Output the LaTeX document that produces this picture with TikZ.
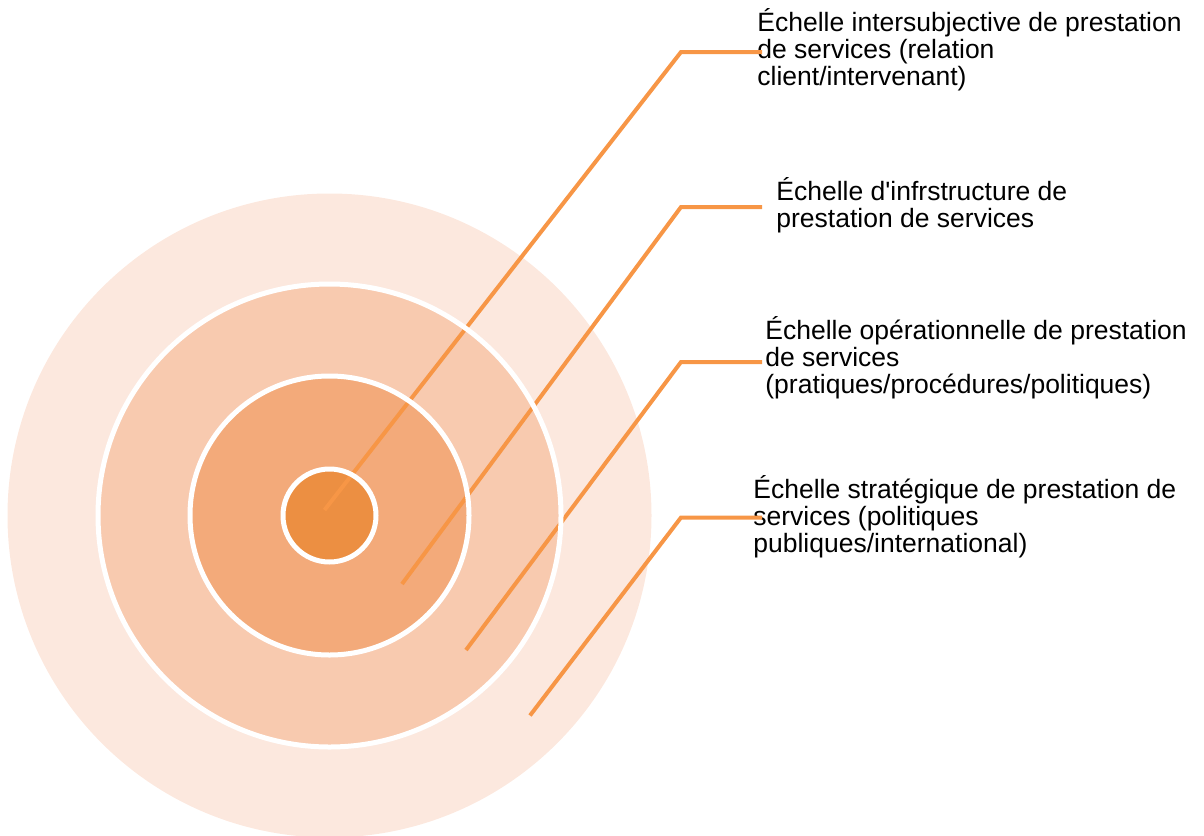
\documentclass[tikz,border=0pt]{standalone}
\usepackage{fontspec}
\setmainfont{Liberation Sans}[Ligatures=TeXOff]

\definecolor{ringA}{HTML}{FCE8DE}
\definecolor{ringB}{HTML}{F8CAAF}
\definecolor{ringC}{HTML}{F3AA7A}
\definecolor{ringD}{HTML}{EC8F42}
\definecolor{lead}{HTML}{F79646}

\begin{document}
\begin{tikzpicture}[x=0.5pt, y=-0.5pt,
    scalelabel/.style={anchor=base west, inner sep=0pt, align=left,
      font=\fontsize{13.25}{13.5}\selectfont},
    leader/.style={draw=lead, line width=2pt},
    gap/.style={draw=white, line width=2.5pt}]
    \useasboundingbox (0,0) rectangle (1204,835);
    \clip (0,0) rectangle (1204,835);

    \coordinate (c) at (329.5,515.5);
    \fill[ringA] (c) circle (322);
    \fill[ringB] (c) circle (231.5);
    \fill[ringC] (c) circle (139.5);
    \fill[ringD] (c) circle (46.5);

    % labels, placed by the baseline of their last line
    \node[scalelabel] (inter) at (757,85) {Échelle intersubjective de prestation\\de services (relation\\client/intervenant)};
    \node[scalelabel] (infra) at (776,227) {Échelle d'infrstructure de\\prestation de services};
    \node[scalelabel] (oper) at (765,393) {Échelle opérationnelle de prestation\\de services\\(pratiques/procédures/politiques)};
    \node[scalelabel] (strat) at (753,552) {Échelle stratégique de prestation de\\services (politiques\\publiques/international)};

    \coordinate (p1) at (324.5,510);   \coordinate (k1) at (681,52);    \coordinate (e1) at (762,52);
    \coordinate (p2) at (402,584);     \coordinate (k2) at (681,207);   \coordinate (e2) at (762,207);
    \coordinate (p3) at (466,650);     \coordinate (k3) at (681,362);   \coordinate (e3) at (762,362);
    \coordinate (p4) at (530,715.5);   \coordinate (k4) at (681,517.5); \coordinate (e4) at (762,517.5);

    \draw[leader] (p1) -- (k1) -- (e1);
    \draw[leader] (p2) -- (k2) -- (e2);
    \draw[leader] (p3) -- (k3) -- (e3);
    \draw[leader] (p4) -- (k4) -- (e4);

    % white rings over the leaders
    \draw[gap] (c) circle (231.5);
    \draw[gap] (c) circle (139.5);
    \draw[gap] (c) circle (46.5);
  \end{tikzpicture}
\end{document}
